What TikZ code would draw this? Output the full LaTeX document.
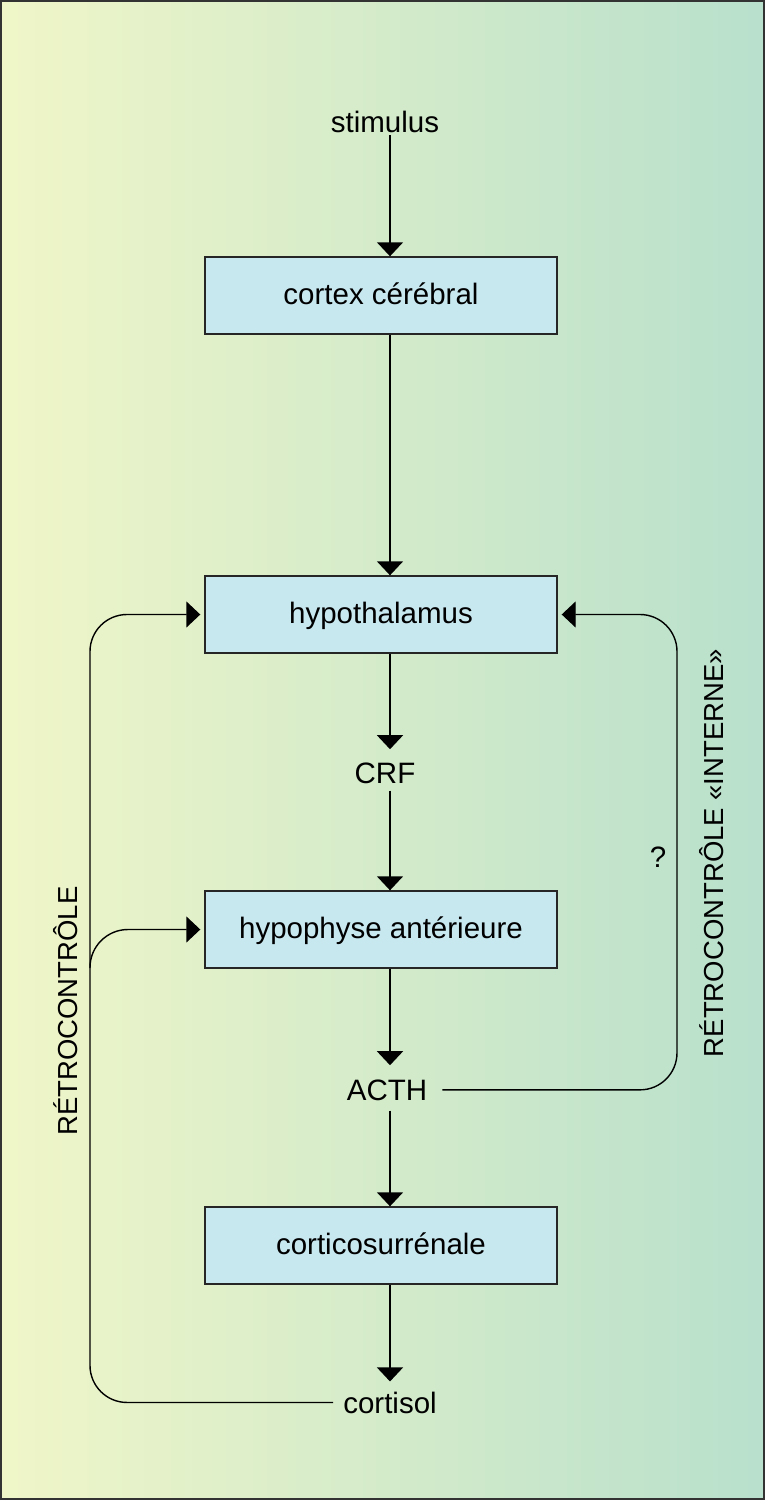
\documentclass[tikz,border=0pt]{standalone}
\usepackage{fontspec}
\setmainfont{Liberation Sans}
\usetikzlibrary{arrows.meta}
\definecolor{bgL}{HTML}{F0F6C8}
\definecolor{bgR}{HTML}{B8E0CC}
\definecolor{boxfill}{HTML}{C8E8F0}
\begin{document}
\begin{tikzpicture}[x=1pt,y=-1pt,
  organ/.style={draw=black!85, line width=1.4pt, fill=boxfill, minimum width=352pt, minimum height=77pt, inner sep=0pt, text height=17pt, text depth=0pt, font=\fontsize{29.5}{34}\selectfont},
  lbl/.style={anchor=base, inner sep=0pt, font=\fontsize{29.5}{34}\selectfont},
  vlbl/.style={rotate=90, inner sep=0pt, font=\fontsize{27.5}{32}\selectfont},
  conn/.style={line width=1.4pt, -{Triangle[width=26pt,length=14pt]}},
  fb/.style={line width=1.4pt, rounded corners=37pt, -{Triangle[width=26pt,length=14pt]}}]
\useasboundingbox (0,0) rectangle (765,1500);
\fill[left color=bgL, right color=bgR] (0,0) rectangle (765,1500);
\draw[line width=2pt, black!80] (1,1) rectangle (764,1499);

\coordinate (ax) at (390,0);
\coordinate (lx) at (90,0);
\coordinate (rx) at (677,0);

\node[organ] (cortex) at (381,295.5) {cortex cérébral};
\node[organ] (hyp) at (381,614.5) {hypothalamus};
\node[organ] (pit) at (381,929.5) {hypophyse antérieure};
\node[organ] (adr) at (381,1245.5) {corticosurrénale};

\node[lbl] (stim) at (385,132) {stimulus};
\node[lbl] (crf) at (385,783) {CRF};
\node[lbl] (acth) at (387,1100) {ACTH};
\node[lbl] (cort) at (390,1413) {cortisol};

\node[font=\fontsize{29.5}{34}\selectfont, inner sep=0pt] (q) at (658,857) {?};
\node[vlbl] (rl) at (66,1011) {RÉTROCONTRÔLE};
\node[vlbl] (rr) at (712,853) {RÉTROCONTRÔLE «INTERNE»};

\draw[conn, shorten <=3pt] (ax |- stim.south) -- (ax |- cortex.north);
\draw[conn] (ax |- cortex.south) -- (ax |- hyp.north);
\draw[conn, shorten >=13pt] (ax |- hyp.south) -- (ax |- crf.north);
\draw[conn, shorten <=7pt] (ax |- crf.south) -- (ax |- pit.north);
\draw[conn, shorten >=14pt] (ax |- pit.south) -- (ax |- acth.north);
\draw[conn, shorten <=10pt] (ax |- acth.south) -- (ax |- adr.north);
\draw[conn, shorten >=10pt] (ax |- adr.south) -- (ax |- cort.north);

\draw[fb, shorten >=4pt] ([xshift=-10pt]cort.west) -- (lx |- cort.west) -- (lx |- hyp.west) -- (hyp.west);
\coordinate (br) at (90,968);
\draw[fb, rounded corners=38pt, shorten >=4pt] (br) -- (lx |- pit.west) -- (pit.west);
\draw[fb, shorten >=4pt] ([xshift=15pt]acth.east) -- (rx |- acth.east) -- (rx |- hyp.east) -- (hyp.east);
\end{tikzpicture}
\end{document}
